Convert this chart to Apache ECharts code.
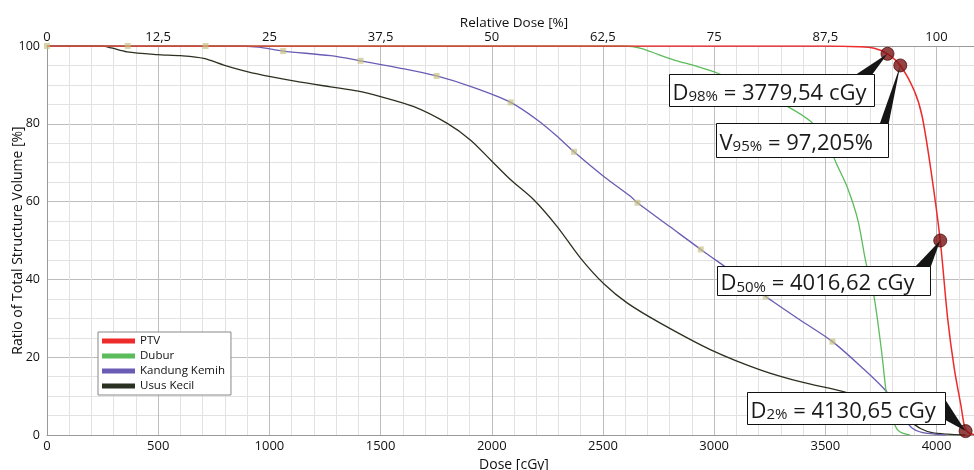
<!DOCTYPE html>
<html>
<head>
<meta charset="utf-8">
<title>DVH</title>
<script src="https://cdn.jsdelivr.net/npm/echarts@6/dist/echarts.min.js"></script>
<style>
  html, body { margin: 0; padding: 0; background: #fff; }
  #main { width: 974px; height: 470px; }
</style>
</head>
<body>
<div id="main"></div>
<script>
// dose [cGy], volume [%]
var ptv = [[0,100],[3500,100],[3650,99.8],[3720,99.4],[3779.54,98],[3837,95],[3900,88.5],[3935,82],
  [3975,68],[4016.62,50],[4050,30],[4080,17],[4110,7.5],[4125,2.4],[4135,1.1],[4150,0.4],[4175,0.1]];
var dubur = [[0,100],[2600,100],[2670,99.4],[2750,97.8],[2820,96.4],[2920,94.8],[3016,93],[3120,90.3],
  [3200,88],[3331,84.4],[3436,80.5],[3500,76],[3556,69],[3600,63.5],[3646,55.3],[3682,44.5],[3719,35.6],
  [3754,21],[3773,11.3],[3790,6.5],[3805,3.6],[3825,1.3],[3850,0.4],[3880,0]];
var kandungKemih = [[0,100],[850,100],[950,99.7],[1062,98.7],[1275,97.5],[1410,96.2],[1580,94.4],[1752,92.3],
  [1920,89.3],[2085,85.5],[2205,81],[2290,77],[2370,72.8],[2505,66.4],[2625,61.3],[2655,59.7],[2800,53.6],
  [2940,47.7],[3090,41.6],[3232,35.6],[3380,29.8],[3532,24],[3660,17.6],[3773,11.3],[3820,7],[3860,3.8],
  [3890,1.8],[3920,0.9],[3960,0.4],[4040,0]];
var ususKecil = [[0,100],[250,100],[290,99.5],[360,98.5],[495,97.8],[600,97.5],[705,96.8],[795,95.1],[900,93.4],
  [1005,92.1],[1140,90.7],[1275,89.5],[1400,88.4],[1500,87],[1650,84.4],[1800,80.1],[1905,75.8],[1995,70.7],
  [2085,65.6],[2190,60.4],[2295,53.5],[2400,45.4],[2505,38.8],[2610,33.9],[2760,28.7],[2985,21.9],[3210,16.7],
  [3400,13.5],[3585,11.1],[3700,8.6],[3800,6],[3880,3.5],[3930,1.6],[3980,0.6],[4050,0.2],[4130,0]];
// sample markers on curve
var samplePts = [[0,100],[363,100],[713,100],[1062,98.7],[1410,96.2],[1752,92.3],[2085,85.5],[2370,72.8],
  [2655,59.7],[2940,47.7],[3232,35.6],[3532,24]];
// dose statistics points
var statPts = [[3779.54,98],[3837,95],[4016.62,50],[4130.65,1]];
var statName = ['D','V','D','D'];
var statSub = ['98%','95%','50%','2%'];
var statText = [' = 3779,54 cGy',' = 97,205%',' = 4016,62 cGy',' = 4130,65 cGy'];

var names = ['PTV','Dubur','Kandung Kemih','Usus Kecil'];
var colors = ['#ee2b2b','#5cbc5c','#6a5cb4','#2b3120'];

var font = '"Open Sans", sans-serif';
var majorGrid = '#bdbdbd', minorGrid = '#e2e2e2';

var chart = echarts.init(document.getElementById('main'));

function lineSeries(name, data, color, w, z) {
  return {
    name: name, type: 'line', data: data, xAxisIndex: 0, yAxisIndex: 0,
    smooth: 0.3, showSymbol: false, symbol: 'none',
    lineStyle: { color: color, width: w }, itemStyle: { color: color }, z: z
  };
}

option = {
  animation: false,
  grid: { left: 47, right: -7, top: 46, bottom: 35, outerBoundsMode: 'none', containLabel: false },
  legend: {
    orient: 'vertical', left: 98, top: 332,
    data: names, icon: 'rect', itemWidth: 33, itemHeight: 5, itemGap: 3,
    backgroundColor: '#fff', borderColor: '#888', borderWidth: 1, padding: [3, 6, 3, 4],
    textStyle: { fontFamily: font, fontSize: 11.5, color: '#111' }
  },
  xAxis: [
    {
      type: 'value', position: 'bottom', min: 0, max: 4200, interval: 500,
      name: 'Dose [cGy]', nameLocation: 'middle', nameGap: 23, nameMoveOverlap: false,
      nameTextStyle: { fontFamily: font, fontSize: 14, color: '#111' },
      axisLine: { show: true, lineStyle: { color: '#999' } },
      axisTick: { show: false },
      axisLabel: {
        margin: 5, fontFamily: font, fontSize: 13, color: '#111', showMaxLabel: false,
        formatter: function (v) { return v > 4000 ? '' : String(v); }
      },
      splitLine: { show: true, lineStyle: { color: majorGrid, width: 1 } },
      minorTick: { show: false, splitNumber: 5 },
      minorSplitLine: { show: true, lineStyle: { color: minorGrid, width: 1 } }
    },
    {
      type: 'value', position: 'top', min: 0, max: 105, interval: 12.5,
      name: 'Relative Dose [%]', nameLocation: 'middle', nameGap: 16, nameMoveOverlap: false,
      nameTextStyle: { fontFamily: font, fontSize: 13.5, color: '#111' },
      axisLine: { show: true, lineStyle: { color: '#999' } },
      axisTick: { show: false },
      axisLabel: {
        margin: 2, fontFamily: font, fontSize: 13, color: '#111', showMaxLabel: false,
        formatter: function (v) { return v > 100 ? '' : String(v).replace('.', ','); }
      },
      splitLine: { show: false }
    }
  ],
  yAxis: {
    type: 'value', min: 0, max: 100, interval: 20,
    name: 'Ratio of Total Structure Volume [%]', nameLocation: 'middle', nameGap: 22, nameMoveOverlap: false,
    nameTextStyle: { fontFamily: font, fontSize: 14, color: '#111' },
    axisLine: { show: true, lineStyle: { color: '#999' } },
    axisTick: { show: false },
    axisLabel: { margin: 7, fontFamily: font, fontSize: 12.5, color: '#111' },
    splitLine: { show: true, lineStyle: { color: majorGrid, width: 1 } },
    minorTick: { show: false, splitNumber: 4 },
    minorSplitLine: { show: true, lineStyle: { color: minorGrid, width: 1 } }
  },
  series: [
    lineSeries(names[3], ususKecil, colors[3], 1.3, 2),
    lineSeries(names[2], kandungKemih, colors[2], 1.3, 3),
    lineSeries(names[1], dubur, colors[1], 1.3, 4),
    lineSeries(names[0], ptv, colors[0], 1.5, 5),
    {
      type: 'scatter', data: samplePts, symbol: 'rect', symbolSize: 6, z: 6,
      itemStyle: { color: 'rgba(200,194,130,0.85)' }, silent: true
    },
    {
      type: 'scatter', data: statPts, symbol: 'circle', symbolSize: 13, z: 8,
      itemStyle: { color: '#7c1414', borderColor: '#4e0b0b', borderWidth: 1 }, silent: true
    }
  ]
};
chart.setOption(option);

// callout boxes: offset from point, size, wedge anchor
var boxes = [
  { dx: -218, dy: 20, w: 205, h: 32, wedge: 'top', a: 20, b: 3 },
  { dx: -184, dy: 58, w: 172, h: 34, wedge: 'top', a: 9, b: 0 },
  { dx: -223, dy: 25, w: 213, h: 29, wedge: 'top', a: 16, b: 0 },
  { dx: -219, dy: -39, w: 198, h: 32, wedge: 'right', a: 6, b: 27 }
];

var els = [];
statPts.forEach(function (p, i) {
  var pt = chart.convertToPixel({ xAxisIndex: 0, yAxisIndex: 0 }, p);
  var bx = boxes[i];
  var x0 = Math.round(pt[0] + bx.dx) + 0.5, y0 = Math.round(pt[1] + bx.dy) + 0.5;
  var poly;
  if (bx.wedge === 'top') {
    poly = [[x0 + bx.w - bx.a, y0 + 1], [x0 + bx.w - bx.b, y0 + 1], [pt[0], pt[1]]];
  } else {
    poly = [[x0 + bx.w - 1, y0 + bx.a], [x0 + bx.w - 1, y0 + bx.b], [pt[0], pt[1]]];
  }
  els.push({ type: 'polygon', z: 90, shape: { points: poly }, style: { fill: '#151515' }, silent: true });
  els.push({
    type: 'rect', z: 91, shape: { x: x0, y: y0, width: bx.w, height: bx.h },
    style: { fill: '#fff', stroke: '#111', lineWidth: 1 }, silent: true
  });
  els.push({
    type: 'text', z: 92, x: x0 + 3, y: y0 + bx.h / 2, silent: true,
    style: {
      text: '{m|' + statName[i] + '}{s|' + statSub[i] + '}{m|' + statText[i] + '}',
      verticalAlign: 'middle', align: 'left',
      rich: {
        m: { fontFamily: font, fontSize: 22, lineHeight: 28, verticalAlign: 'bottom', fill: '#1a1a1a', color: '#1a1a1a' },
        s: { fontFamily: font, fontSize: 15, lineHeight: 23, verticalAlign: 'bottom', fill: '#1a1a1a', color: '#1a1a1a' }
      }
    }
  });
});
chart.setOption({ graphic: { elements: els } });
</script>
</body>
</html>
